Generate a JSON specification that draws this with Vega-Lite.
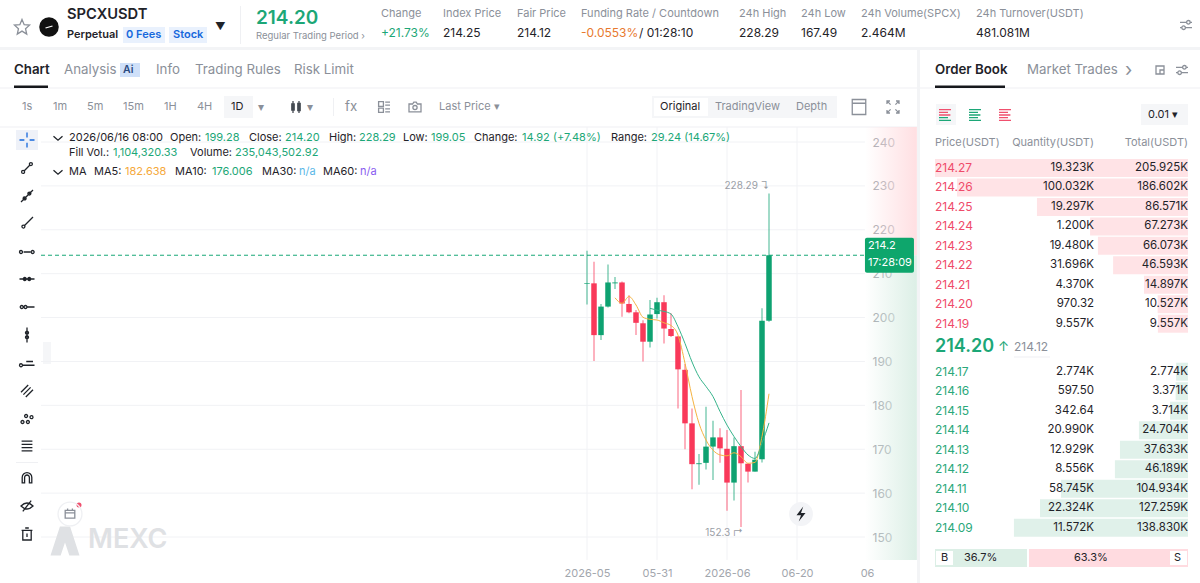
{
"$schema":"https://vega.github.io/schema/vega-lite/v6.json",
"width":1200,"height":583,"padding":0,"autosize":"none","background":"#ffffff",
"config":{"view":{"stroke":null},"font":"Inter","text":{"font":"Inter"}},
"datasets":{
"candles":[
{"date":"2026-05-21","open":207.65,"close":207.8,"high":215.25,"low":203.0,"ma5":null,"ma10":null},
{"date":"2026-05-22","open":207.8,"close":196.0,"high":212.74,"low":190.1,"ma5":null,"ma10":null},
{"date":"2026-05-23","open":196.0,"close":202.5,"high":203.1,"low":194.9,"ma5":null,"ma10":null},
{"date":"2026-05-24","open":202.5,"close":208.0,"high":212.1,"low":202.3,"ma5":null,"ma10":null},
{"date":"2026-05-25","open":207.8,"close":208.0,"high":209.25,"low":206.5,"ma5":204.5,"ma10":null},
{"date":"2026-05-26","open":208.0,"close":203.2,"high":208.2,"low":200.2,"ma5":203.25,"ma10":null},
{"date":"2026-05-27","open":203.1,"close":201.2,"high":205.1,"low":201.0,"ma5":204.8,"ma10":null},
{"date":"2026-05-28","open":201.2,"close":198.8,"high":201.7,"low":196.0,"ma5":202.87,"ma10":null},
{"date":"2026-05-29","open":198.7,"close":194.5,"high":199.4,"low":190.0,"ma5":200.06,"ma10":null},
{"date":"2026-05-30","open":194.5,"close":200.7,"high":204.0,"low":193.2,"ma5":199.6,"ma10":202.1},
{"date":"2026-05-31","open":200.8,"close":203.5,"high":204.5,"low":199.8,"ma5":199.45,"ma10":201.7},
{"date":"2026-06-01","open":203.5,"close":197.5,"high":205.1,"low":194.1,"ma5":198.8,"ma10":201.4},
{"date":"2026-06-02","open":197.4,"close":195.8,"high":201.0,"low":195.6,"ma5":198.2,"ma10":200.8},
{"date":"2026-06-03","open":195.7,"close":188.2,"high":195.8,"low":179.3,"ma5":196.0,"ma10":197.9},
{"date":"2026-06-04","open":188.1,"close":175.9,"high":189.4,"low":170.0,"ma5":189.6,"ma10":194.1},
{"date":"2026-06-05","open":175.9,"close":166.6,"high":179.3,"low":160.9,"ma5":182.0,"ma10":189.9},
{"date":"2026-06-06","open":166.6,"close":166.8,"high":168.9,"low":161.9,"ma5":175.9,"ma10":186.5},
{"date":"2026-06-07","open":166.9,"close":170.6,"high":179.7,"low":165.4,"ma5":172.1,"ma10":184.3},
{"date":"2026-06-08","open":170.6,"close":172.7,"high":176.5,"low":163.0,"ma5":169.8,"ma10":182.0},
{"date":"2026-06-09","open":172.7,"close":170.2,"high":174.8,"low":166.9,"ma5":168.7,"ma10":178.6},
{"date":"2026-06-10","open":170.1,"close":162.4,"high":174.4,"low":156.0,"ma5":168.5,"ma10":175.5},
{"date":"2026-06-11","open":162.4,"close":170.7,"high":172.7,"low":158.3,"ma5":169.2,"ma10":172.9},
{"date":"2026-06-12","open":170.7,"close":166.8,"high":183.5,"low":152.3,"ma5":168.3,"ma10":170.6},
{"date":"2026-06-13","open":166.7,"close":164.9,"high":166.8,"low":162.4,"ma5":166.8,"ma10":168.7},
{"date":"2026-06-14","open":164.9,"close":167.6,"high":169.4,"low":164.9,"ma5":167.0,"ma10":167.9},
{"date":"2026-06-15","open":167.7,"close":199.3,"high":202.1,"low":167.0,"ma5":172.9,"ma10":171.4},
{"date":"2026-06-16","open":199.28,"close":214.2,"high":228.29,"low":199.05,"ma5":182.638,"ma10":176.006}
],
"book":[
{"level":-9,"side":"ask","price":"214.27","qty":"19.323K","total":"205.925K","depth":100},
{"level":-8,"side":"ask","price":"214.26","qty":"100.032K","total":"186.602K","depth":91.3},
{"level":-7,"side":"ask","price":"214.25","qty":"19.297K","total":"86.571K","depth":59.7},
{"level":-6,"side":"ask","price":"214.24","qty":"1.200K","total":"67.273K","depth":38.7},
{"level":-5,"side":"ask","price":"214.23","qty":"19.480K","total":"66.073K","depth":35.6},
{"level":-4,"side":"ask","price":"214.22","qty":"31.696K","total":"46.593K","depth":29.6},
{"level":-3,"side":"ask","price":"214.21","qty":"4.370K","total":"14.897K","depth":17.4},
{"level":-2,"side":"ask","price":"214.20","qty":"970.32","total":"10.527K","depth":12},
{"level":-1,"side":"ask","price":"214.19","qty":"9.557K","total":"9.557K","depth":11.9},
{"level":1,"side":"bid","price":"214.17","qty":"2.774K","total":"2.774K","depth":4.7},
{"level":2,"side":"bid","price":"214.16","qty":"597.50","total":"3.371K","depth":4.9},
{"level":3,"side":"bid","price":"214.15","qty":"342.64","total":"3.714K","depth":7.1},
{"level":4,"side":"bid","price":"214.14","qty":"20.990K","total":"24.704K","depth":19.4},
{"level":5,"side":"bid","price":"214.13","qty":"12.929K","total":"37.633K","depth":26.9},
{"level":6,"side":"bid","price":"214.12","qty":"8.556K","total":"46.189K","depth":28.9},
{"level":7,"side":"bid","price":"214.11","qty":"58.745K","total":"104.934K","depth":50.2},
{"level":8,"side":"bid","price":"214.10","qty":"22.324K","total":"127.259K","depth":58.5},
{"level":9,"side":"bid","price":"214.09","qty":"11.572K","total":"138.830K","depth":68.8}
],
"boxes":[
{"a":0,"b":1,"c":0,"d":1,"tone":"band"},{"a":2,"b":3,"c":1,"d":2,"tone":"band"},
{"a":0,"b":2,"c":3,"d":4,"tone":"line"},{"a":3,"b":1,"c":3,"d":4,"tone":"line"},{"a":0,"b":2,"c":5,"d":6,"tone":"line"},
{"a":4,"b":5,"c":7,"d":8,"tone":"seg"},{"a":6,"b":7,"c":7,"d":8,"tone":"seg"},{"a":8,"b":9,"c":9,"d":10,"tone":"white"},
{"a":10,"b":11,"c":11,"d":12,"tone":"ink"},{"a":12,"b":13,"c":11,"d":12,"tone":"ink"},
{"a":14,"b":15,"c":13,"d":14,"tone":"badge"},{"a":16,"b":17,"c":13,"d":14,"tone":"badge"},{"a":18,"b":19,"c":15,"d":16,"tone":"ai"},
{"a":20,"b":21,"c":17,"d":18,"tone":"seg"},{"a":22,"b":23,"c":17,"d":18,"tone":"seg"},
{"a":12,"b":25,"c":19,"d":20,"tone":"softgreen"},{"a":24,"b":21,"c":19,"d":20,"tone":"softred"},
{"a":22,"b":26,"c":21,"d":22,"tone":"white"},{"a":27,"b":28,"c":21,"d":22,"tone":"white"},
{"a":29,"b":30,"c":23,"d":24,"tone":"sel"},{"a":31,"b":32,"c":25,"d":26,"tone":"line"},{"a":33,"b":34,"c":9,"d":10,"tone":"line"},
{"a":35,"b":36,"c":27,"d":28,"tone":"seg"},{"a":37,"b":38,"c":29,"d":30,"tone":"line"},{"a":29,"b":30,"c":31,"d":32,"tone":"line"}
],
"labels":[
{"t":"SPCXUSDT","c":0,"r":1,"tone":"ink","kind":"t15","w":"b"},
{"t":"Perpetual","c":0,"r":4,"tone":"ink","kind":"t11","w":"b"},
{"t":"0 Fees","c":1,"r":4,"tone":"blue","kind":"t11","w":"b"},
{"t":"Stock","c":2,"r":4,"tone":"blue","kind":"t11","w":"b"},
{"t":"▼","c":62,"r":16,"tone":"ink","kind":"t10"},
{"t":"214.20","c":3,"r":2,"tone":"green","kind":"t20","w":"b"},
{"t":"Regular Trading Period ›","c":3,"r":5,"tone":"grey","kind":"t9"},
{"t":"Change","c":4,"r":0,"tone":"grey","kind":"t11"},{"t":"+21.73%","c":4,"r":3,"tone":"green","kind":"t12"},
{"t":"Index Price","c":5,"r":0,"tone":"grey","kind":"t11"},{"t":"214.25","c":5,"r":3,"tone":"ink","kind":"t12"},
{"t":"Fair Price","c":6,"r":0,"tone":"grey","kind":"t11"},{"t":"214.12","c":6,"r":3,"tone":"ink","kind":"t12"},
{"t":"Funding Rate / Countdown","c":7,"r":0,"tone":"grey","kind":"t11"},{"t":"-0.0553%","c":7,"r":3,"tone":"orange","kind":"t12"},{"t":"/ 01:28:10","c":86,"r":3,"tone":"ink","kind":"t12"},
{"t":"24h High","c":8,"r":0,"tone":"grey","kind":"t11"},{"t":"228.29","c":8,"r":3,"tone":"ink","kind":"t12"},
{"t":"24h Low","c":9,"r":0,"tone":"grey","kind":"t11"},{"t":"167.49","c":9,"r":3,"tone":"ink","kind":"t12"},
{"t":"24h Volume(SPCX)","c":10,"r":0,"tone":"grey","kind":"t11"},{"t":"2.464M","c":10,"r":3,"tone":"ink","kind":"t12"},
{"t":"24h Turnover(USDT)","c":11,"r":0,"tone":"grey","kind":"t11"},{"t":"481.081M","c":11,"r":3,"tone":"ink","kind":"t12"},
{"t":"Chart","c":12,"r":6,"tone":"ink","kind":"t14","w":"b"},
{"t":"Analysis","c":13,"r":6,"tone":"grey","kind":"t14"},{"t":"Ai","c":22,"r":6,"tone":"navy","kind":"t10","w":"b"},
{"t":"Info","c":14,"r":6,"tone":"grey","kind":"t14"},{"t":"Trading Rules","c":15,"r":6,"tone":"grey","kind":"t14"},{"t":"Risk Limit","c":16,"r":6,"tone":"grey","kind":"t14"},
{"t":"Order Book","c":17,"r":6,"tone":"ink","kind":"t14","w":"b"},{"t":"Market Trades","c":18,"r":6,"tone":"grey","kind":"t14"},{"t":"›","c":67,"r":6,"tone":"grey","kind":"t20"},
{"t":"1s","c":19,"r":7,"tone":"grey","kind":"t11"},{"t":"1m","c":20,"r":7,"tone":"grey","kind":"t11"},{"t":"5m","c":21,"r":7,"tone":"grey","kind":"t11"},{"t":"15m","c":22,"r":7,"tone":"grey","kind":"t11"},{"t":"1H","c":23,"r":7,"tone":"grey","kind":"t11"},{"t":"4H","c":24,"r":7,"tone":"grey","kind":"t11"},
{"t":"1D","c":25,"r":7,"tone":"ink","kind":"t11"},{"t":"▾","c":63,"r":7,"tone":"grey","kind":"t12"},{"t":"▾","c":64,"r":7,"tone":"grey","kind":"t12"},
{"t":"fx","c":66,"r":7,"tone":"grey","kind":"t14"},{"t":"Last Price ▾","c":26,"r":7,"tone":"grey","kind":"t11"},
{"t":"Original","c":27,"r":7,"tone":"ink","kind":"t11"},{"t":"TradingView","c":28,"r":7,"tone":"grey","kind":"t11"},{"t":"Depth","c":29,"r":7,"tone":"grey","kind":"t11"},
{"t":"2026/06/16 08:00","c":30,"r":8,"tone":"ink","kind":"t11"},
{"t":"Open:","c":31,"r":8,"tone":"ink","kind":"t11"},{"t":"199.28","c":32,"r":8,"tone":"green","kind":"t11"},
{"t":"Close:","c":33,"r":8,"tone":"ink","kind":"t11"},{"t":"214.20","c":34,"r":8,"tone":"green","kind":"t11"},
{"t":"High:","c":35,"r":8,"tone":"ink","kind":"t11"},{"t":"228.29","c":36,"r":8,"tone":"green","kind":"t11"},
{"t":"Low:","c":37,"r":8,"tone":"ink","kind":"t11"},{"t":"199.05","c":38,"r":8,"tone":"green","kind":"t11"},
{"t":"Change:","c":39,"r":8,"tone":"ink","kind":"t11"},{"t":"14.92 (+7.48%)","c":40,"r":8,"tone":"green","kind":"t11"},
{"t":"Range:","c":41,"r":8,"tone":"ink","kind":"t11"},{"t":"29.24 (14.67%)","c":42,"r":8,"tone":"green","kind":"t11"},
{"t":"Fill Vol.:","c":30,"r":9,"tone":"ink","kind":"t11"},{"t":"1,104,320.33","c":43,"r":9,"tone":"green","kind":"t11"},
{"t":"Volume:","c":44,"r":9,"tone":"ink","kind":"t11"},{"t":"235,043,502.92","c":45,"r":9,"tone":"green","kind":"t11"},
{"t":"MA","c":30,"r":10,"tone":"ink","kind":"t11"},
{"t":"MA5:","c":46,"r":10,"tone":"ink","kind":"t11"},{"t":"182.638","c":47,"r":10,"tone":"amber","kind":"t11"},
{"t":"MA10:","c":48,"r":10,"tone":"ink","kind":"t11"},{"t":"176.006","c":49,"r":10,"tone":"green","kind":"t11"},
{"t":"MA30:","c":50,"r":10,"tone":"ink","kind":"t11"},{"t":"n/a","c":51,"r":10,"tone":"sky","kind":"t11"},
{"t":"MA60:","c":52,"r":10,"tone":"ink","kind":"t11"},{"t":"n/a","c":53,"r":10,"tone":"purple","kind":"t11"},
{"t":"Price(USDT)","c":17,"r":11,"tone":"grey","kind":"t11"},
{"t":"Quantity(USDT)","c":87,"r":11,"tone":"grey","kind":"t11","w":"r"},{"t":"Total(USDT)","c":88,"r":11,"tone":"grey","kind":"t11","w":"r"},
{"t":"0.01 ▾","c":54,"r":12,"tone":"ink","kind":"t11"},
{"t":"214.20","c":17,"r":13,"tone":"green","kind":"t18","w":"b"},{"t":"↑","c":56,"r":13,"tone":"green","kind":"t14"},{"t":"214.12","c":55,"r":13,"tone":"grey","kind":"t12"},
{"t":"B","c":57,"r":14,"tone":"ink","kind":"t11"},{"t":"36.7%","c":58,"r":14,"tone":"ink","kind":"t11"},{"t":"63.3%","c":59,"r":14,"tone":"ink","kind":"t11"},{"t":"S","c":60,"r":14,"tone":"ink","kind":"t11"},
{"t":"MEXC","c":61,"r":15,"tone":"wm","kind":"t27","w":"b"}
],
"discs":[
{"icon":"wmlogo","c":85,"r":35,"tone":"wm","kind":"wm"},
{"icon":"circle","c":80,"r":16,"tone":"black","kind":"c11"},
{"icon":"circle","c":82,"r":33,"tone":"btn","kind":"c13"},
{"icon":"bolt","c":82,"r":33,"tone":"ink","kind":"i15"},
{"icon":"circle","c":83,"r":33,"tone":"white","kind":"c13"},
{"icon":"circle","c":84,"r":34,"tone":"red","kind":"c3"}
],
"icons":[
{"icon":"crosshair","c":68,"r":18,"tone":"blue","kind":"i15"},
{"icon":"seg","c":68,"r":19,"tone":"ink","kind":"i12"},
{"icon":"ray2","c":68,"r":20,"tone":"ink","kind":"i12"},
{"icon":"ray1","c":68,"r":21,"tone":"ink","kind":"i12"},
{"icon":"hseg","c":68,"r":22,"tone":"ink","kind":"i15"},
{"icon":"hline2","c":68,"r":23,"tone":"ink","kind":"i15"},
{"icon":"hray","c":68,"r":24,"tone":"ink","kind":"i15"},
{"icon":"vline","c":68,"r":25,"tone":"ink","kind":"i15"},
{"icon":"hlabel","c":68,"r":26,"tone":"ink","kind":"i15"},
{"icon":"channel","c":68,"r":27,"tone":"ink","kind":"i12"},
{"icon":"pattern","c":68,"r":28,"tone":"ink","kind":"i12"},
{"icon":"fib","c":68,"r":29,"tone":"ink","kind":"i12"},
{"icon":"magnet","c":68,"r":30,"tone":"ink","kind":"i12"},
{"icon":"eyeoff","c":68,"r":31,"tone":"ink","kind":"i12"},
{"icon":"trash","c":68,"r":32,"tone":"ink","kind":"i12"},
{"icon":"chev","c":65,"r":8,"tone":"ink","kind":"i10"},
{"icon":"chev","c":65,"r":10,"tone":"ink","kind":"i10"},
{"icon":"star","c":81,"r":16,"tone":"icon","kind":"i15"},
{"icon":"logoline","c":80,"r":16,"tone":"white","kind":"i10"},
{"icon":"candle","c":69,"r":7,"tone":"iconink","kind":"i12"},
{"icon":"grid","c":70,"r":7,"tone":"icon","kind":"i12"},
{"icon":"camera","c":71,"r":7,"tone":"icon","kind":"i12"},
{"icon":"window","c":72,"r":7,"tone":"icon","kind":"i15"},
{"icon":"expand","c":73,"r":7,"tone":"icon","kind":"i12"},
{"icon":"settings","c":74,"r":17,"tone":"icon","kind":"i12"},
{"icon":"box","c":75,"r":6,"tone":"icon","kind":"i10"},
{"icon":"settings","c":76,"r":6,"tone":"icon","kind":"i12"},
{"icon":"obtop","c":77,"r":12,"tone":"red","kind":"i12"},
{"icon":"obbottom","c":77,"r":12,"tone":"green","kind":"i12"},
{"icon":"oball","c":78,"r":12,"tone":"green","kind":"i12"},
{"icon":"oball","c":79,"r":12,"tone":"red","kind":"i12"},
{"icon":"circle","c":83,"r":33,"tone":"line","kind":"c13"},
{"icon":"calendar","c":83,"r":33,"tone":"icon","kind":"i12"}
]
},
"resolve":{"scale":{"x":"independent","y":"independent","color":"independent","size":"independent","shape":"independent"}},
"layer":[
{
"data":{"name":"boxes"},
"mark":{"type":"rect"},
"encoding":{
"x":{"field":"a","type":"quantitative","axis":null,"scale":{"nice":false,"zero":false,"domain":[0,1,2,3,4,5,6,7,8,9,10,11,12,13,14,15,16,17,18,19,20,21,22,23,24,25,26,27,28,29,30,31,32,33,34,35,36,37,38],"range":[0,1200,917,920,224,253,652,837,654,708,14,48,935,1005,123,165,169,207,120,140,1141,1188,936,956,1029,1027,953,1170,1187,16,38,240,241,333,334,43,51,1014,1050]}},
"x2":{"field":"b"},
"y":{"field":"c","type":"quantitative","axis":null,"scale":{"nice":false,"zero":false,"domain":[0,1,2,3,4,5,6,7,8,9,10,11,12,13,14,15,16,17,18,19,20,21,22,23,24,25,26,27,28,29,30,31,32],"range":[47,50,583,87.5,88.5,126.5,127.5,96,118,98,116,85.5,88,27,43,63,77,104,125,549,567,551,565,130,150,6,44,342,364,356.5,357.5,462,463]}},
"y2":{"field":"d"},
"color":{"field":"tone","type":"nominal","legend":null,"scale":{"domain":["band","line","seg","white","ink","badge","ai","softgreen","softred","sel"],"range":["#f3f4f6","#eff0f3","#f5f6f8","#ffffff","#16181c","#e9f1fd","#cfe0f9","#dcefe6","#ffdbe0","#eef1f8"]}}
}
},
{
"layer":[
{"data":{"values":[{}]},
"mark":{"type":"rect","fill":{"gradient":"linear","x1":0,"x2":1,"y1":0,"y2":0,"stops":[{"offset":0,"color":"rgba(255,223,226,0)"},{"offset":1,"color":"rgba(255,223,226,1)"}]}},
"encoding":{"x":{"datum":{"year":2026,"month":6,"date":29,"hours":17,"utc":true},"type":"temporal","scale":{"type":"utc","nice":false,"padding":0,"domain":[{"year":2026,"month":3,"date":4,"utc":true},{"year":2026,"month":7,"date":8,"utc":true}],"range":[41,923]}},
"x2":{"datum":{"year":2026,"month":7,"date":7,"hours":3,"utc":true}},
"y":{"datum":243.42,"type":"quantitative","scale":{"domain":[144.08,243.42],"range":[563,127],"nice":false,"zero":false}},"y2":{"datum":214.2}}},
{"data":{"values":[{}]},
"mark":{"type":"rect","fill":{"gradient":"linear","x1":0,"x2":1,"y1":0,"y2":0,"stops":[{"offset":0,"color":"rgba(220,239,230,0)"},{"offset":1,"color":"rgba(220,239,230,1)"}]}},
"encoding":{"x":{"datum":{"year":2026,"month":6,"date":29,"hours":17,"utc":true},"type":"temporal"},"x2":{"datum":{"year":2026,"month":7,"date":7,"hours":3,"utc":true}},
"y":{"datum":214.2,"type":"quantitative"},"y2":{"datum":144.78}}},
{"data":{"values":[{"price":150},{"price":160},{"price":170},{"price":180},{"price":190},{"price":200},{"price":210},{"price":220},{"price":230},{"price":240}]},
"mark":{"type":"rule","color":"#f1f2f5","strokeWidth":1},
"encoding":{"x":{"datum":{"year":2026,"month":3,"date":4,"utc":true},"type":"temporal"},"x2":{"datum":{"year":2026,"month":6,"date":29,"hours":17,"utc":true}},
"y":{"field":"price","type":"quantitative","axis":{"title":null,"orient":"right","offset":-328,"zindex":0,"values":[150,160,170,180,190,200,210,220,230,240],"grid":false,"domain":false,"ticks":false,"labelPadding":0,"labelColor":"#a2a6ad","labelFontSize":12,"labelFont":"Inter"}}}},
{"data":{"values":[{"date":"2026-05-21"},{"date":"2026-05-31"},{"date":"2026-06-10"},{"date":"2026-06-20"}]},
"mark":{"type":"rule","color":"#f1f2f5","strokeWidth":1},
"encoding":{"x":{"field":"date","type":"temporal","axis":{"title":null,"orient":"bottom","offset":-16,"zindex":1,"grid":false,"domain":false,"ticks":false,"labelPadding":0,"labelBaseline":"top","labelColor":"#a2a6ad","labelFontSize":11,"labelFont":"Inter","labelOverlap":false,"values":[{"year":2026,"month":5,"date":21,"utc":true},{"year":2026,"month":5,"date":31,"utc":true},{"year":2026,"month":6,"date":10,"utc":true},{"year":2026,"month":6,"date":20,"utc":true},{"year":2026,"month":6,"date":30,"utc":true}],"labelExpr":"utcFormat(datum.value,'%m-%d')=='05-21'?'2026-05':utcFormat(datum.value,'%m-%d')=='06-10'?'2026-06':utcFormat(datum.value,'%m-%d')=='06-30'?'06':utcFormat(datum.value,'%m-%d')"}},
"y":{"datum":144.78,"type":"quantitative"},"y2":{"datum":243.42}}},
{"data":{"values":[{}]},
"mark":{"type":"rule","color":"#17a777","strokeWidth":1,"strokeDash":[4,3]},
"encoding":{"x":{"datum":{"year":2026,"month":3,"date":4,"utc":true},"type":"temporal"},"x2":{"datum":{"year":2026,"month":6,"date":29,"hours":17,"utc":true}},"y":{"datum":214.2,"type":"quantitative"}}},
{"data":{"name":"candles"},
"mark":{"type":"rule","strokeWidth":1.2,"opacity":0.65},
"encoding":{"x":{"field":"date","type":"temporal"},"y":{"field":"low","type":"quantitative"},"y2":{"field":"high"},
"color":{"condition":{"test":"datum.close>=datum.open","value":"#0ea271"},"value":"#f9395a"}}},
{"data":{"name":"candles"},
"mark":{"type":"bar","width":5.5,"orient":"vertical"},
"encoding":{"x":{"field":"date","type":"temporal"},"y":{"field":"open","type":"quantitative"},"y2":{"field":"close"},
"color":{"condition":{"test":"datum.close>=datum.open","value":"#0ea271"},"value":"#f9395a"}}},
{"data":{"name":"candles"},
"mark":{"type":"line","color":"#f5b342","strokeWidth":1,"interpolate":"monotone"},
"encoding":{"x":{"field":"date","type":"temporal"},"y":{"field":"ma5","type":"quantitative"}}},
{"data":{"name":"candles"},
"mark":{"type":"line","color":"#36b48b","strokeWidth":1,"interpolate":"monotone"},
"encoding":{"x":{"field":"date","type":"temporal"},"y":{"field":"ma10","type":"quantitative"}}},
{"data":{"values":[{"date":"2026-06-16","price":228.29,"label":"228.29 ↴"}]},
"mark":{"type":"text","align":"right","baseline":"middle","dx":0,"dy":-7,"fontSize":10,"color":"#9a9ea6"},
"encoding":{"x":{"field":"date","type":"temporal"},"y":{"field":"price","type":"quantitative"},"text":{"field":"label"}}},
{"data":{"values":[{"date":"2026-06-12","price":152.3,"label":"152.3 ↱"}]},
"mark":{"type":"text","align":"right","baseline":"middle","dx":2,"dy":6,"fontSize":10,"color":"#9a9ea6"},
"encoding":{"x":{"field":"date","type":"temporal"},"y":{"field":"price","type":"quantitative"},"text":{"field":"label"}}},
{"data":{"values":[{}]},
"mark":{"type":"rect","color":"#0ea66c","cornerRadius":2},
"encoding":{"x":{"datum":{"year":2026,"month":6,"date":29,"hours":17,"utc":true},"type":"temporal"},"x2":{"datum":{"year":2026,"month":7,"date":6,"hours":17,"utc":true}},"y":{"datum":218.2,"type":"quantitative"},"y2":{"datum":210.2}}},
{"data":{"values":[{"tag":"214.2","at":216.3},{"tag":"17:28:09","at":212.4}]},
"mark":{"type":"text","align":"left","baseline":"middle","dx":1,"fontSize":11,"color":"#ffffff"},
"encoding":{"x":{"datum":{"year":2026,"month":6,"date":30,"utc":true},"type":"temporal"},"y":{"field":"at","type":"quantitative"},"text":{"field":"tag"}}}
]
},
{
"data":{"name":"book"},
"encoding":{
"y":{"field":"level","type":"quantitative","axis":null,"scale":{"domain":[-9,-1,1,9],"range":[168,323.7,371.7,527.7],"nice":false,"zero":false,"padding":0}}
},
"layer":[
{"mark":{"type":"bar","height":18,"orient":"horizontal"},
"encoding":{"x":{"field":"depth","type":"quantitative","axis":null,"scale":{"domain":[0,100],"range":[1188,935],"nice":false}},
"color":{"field":"side","type":"nominal","legend":null,"scale":{"domain":["ask","bid"],"range":["#ffe3e6","#e0f1ea"]}}}},
{"mark":{"type":"text","align":"left","baseline":"middle","fontSize":12},
"encoding":{"x":{"datum":100,"type":"quantitative","axis":null},"text":{"field":"price"},
"color":{"condition":{"test":"datum.side=='ask'","value":"#ef4b6a"},"value":"#2aa87a"}}},
{"mark":{"type":"text","align":"right","baseline":"middle","fontSize":11.5,"color":"#1f2329"},
"encoding":{"x":{"datum":37.15,"type":"quantitative","axis":null},"text":{"field":"qty"}}},
{"mark":{"type":"text","align":"right","baseline":"middle","fontSize":11.5,"color":"#1f2329"},
"encoding":{"x":{"datum":0,"type":"quantitative","axis":null},"text":{"field":"total"}}}
]
},
{
"resolve":{"scale":{"shape":"independent"}},
"encoding":{
"x":{"field":"c","type":"quantitative","axis":null,"scale":{"nice":false,"zero":false,"domain":[0,1,2,3,4,5,6,7,8,9,10,11,12,13,14,15,16,17,18,19,20,21,22,23,24,25,26,27,28,29,30,31,32,33,34,35,36,37,38,39,40,41,42,43,44,45,46,47,48,49,50,51,52,53,54,55,56,57,58,59,60,61,62,63,64,65,66,67,68,69,70,71,72,73,74,75,76,77,78,79,80,81,82,83,84,85,86,87,88],"range":[67,126,173,256,381,443,517,581,739,801,861,976,14,64,156,195,294,935,1027,22,53,87,123,164,197,231,439,660,715,796,69,170,205,249,285,329,359,403,431,474,522,611,651,113,190,235,94,125,175,212,262,299,323,360,1148,1014,998,941,964,1074,1174,88,215,258,307,58,345,1125,27,296,384,415,859,893,1186,1160,1182,945,975,1005,49,22,801,70,79,65,639,1094,1188]}},
"y":{"field":"r","type":"quantitative","axis":null,"scale":{"nice":false,"zero":false,"domain":[0,1,2,3,4,5,6,7,8,9,10,11,12,13,14,15,16,17,18,19,20,21,22,23,24,25,26,27,28,29,30,31,32,33,34,35],"range":[14,15,18,33,35,36,70,107,138,153,172,143,115,347,558,540,27,25,140,168,196,223,252,279,307,335,363,391,419,446,478,506,534,514,505,541]}},
"color":{"field":"tone","type":"nominal","legend":null,"scale":{"domain":["ink","grey","green","blue","orange","amber","sky","purple","red","wm","navy","white","black","btn","icon","iconink","line"],"range":["#1f2329","#8b9099","#1ca777","#1668dc","#e8792e","#f5a93b","#5bb8e8","#8a5cf0","#f0506e","#dfe1e4","#2a4a7f","#ffffff","#111111","#f3f4f7","#8b9099","#444a52","#eff0f3"]}},
"size":{"field":"kind","type":"nominal","legend":null,"scale":{"type":"ordinal","domain":["t9","t10","t11","t12","t14","t15","t18","t20","t27","i10","i12","i15","c3","c11","c13","wm"],"range":[9.5,10.5,11,12,13.3,14.7,18,19,27,100,144,225,25,380,572,841]}}
},
"layer":[
{"data":{"name":"labels"},"transform":[{"filter":"!datum.w"}],"mark":{"type":"text","align":"left","baseline":"middle"},"encoding":{"text":{"field":"t"}}},
{"data":{"name":"labels"},"transform":[{"filter":"datum.w=='b'"}],"mark":{"type":"text","align":"left","baseline":"middle","fontWeight":600},"encoding":{"text":{"field":"t"}}},
{"data":{"name":"labels"},"transform":[{"filter":"datum.w=='r'"}],"mark":{"type":"text","align":"right","baseline":"middle"},"encoding":{"text":{"field":"t"}}},
{"data":{"name":"discs"},"mark":{"type":"point","filled":true,"opacity":1},"encoding":{"shape":{"field":"icon","type":"nominal","legend":null,"scale":{"domain":["circle","wmlogo","bolt"],"range":["circle","M-1,1L-.35,-1H.35L1,1H.3L0,.1L-.3,1Z","M.3,-1L-.6,.15H0L-.3,1L.6,-.15H0Z"]}}}},
{"data":{"name":"icons"},"mark":{"type":"point","filled":false,"opacity":1,"strokeWidth":1.3},"encoding":{"shape":{"field":"icon","type":"nominal","legend":null,"scale":{"domain":["crosshair","seg","ray2","ray1","hseg","hline2","hray","vline","hlabel","channel","pattern","fib","magnet","eyeoff","trash","chev","star","logoline","candle","grid","camera","window","expand","settings","box","obtop","obbottom","oball","circle","calendar"],"range":[
"M-1,0H-.35M.35,0H1M0,-1V-.35M0,.35V1",
"M-.45,.45L.45,-.45M-.9,.65a.25,.25 0 1 0 .5,0a.25,.25 0 1 0 -.5,0M.4,-.65a.25,.25 0 1 0 .5,0a.25,.25 0 1 0 -.5,0",
"M-1,1L1,-1M-.65,.4a.25,.25 0 1 0 .5,0a.25,.25 0 1 0 -.5,0M.15,-.4a.25,.25 0 1 0 .5,0a.25,.25 0 1 0 -.5,0",
"M-.45,.45L1,-1M-.85,.6a.25,.25 0 1 0 .5,0a.25,.25 0 1 0 -.5,0",
"M-.45,0H.45M-1,0a.2,.2 0 1 0 .4,0a.2,.2 0 1 0 -.4,0M.55,0a.2,.2 0 1 0 .4,0a.2,.2 0 1 0 -.4,0",
"M-1,0H1M-.5,0a.2,.2 0 1 0 .4,0a.2,.2 0 1 0 -.4,0M.1,0a.2,.2 0 1 0 .4,0a.2,.2 0 1 0 -.4,0",
"M-.1,0H1M-.9,0a.2,.2 0 1 0 .4,0a.2,.2 0 1 0 -.4,0M-.4,0a.2,.2 0 1 0 .4,0a.2,.2 0 1 0 -.4,0",
"M0,-1V1M-.2,-.3a.2,.2 0 1 0 .4,0a.2,.2 0 1 0 -.4,0M-.2,.3a.2,.2 0 1 0 .4,0a.2,.2 0 1 0 -.4,0",
"M-.6,.3H1M-1,.3a.2,.2 0 1 0 .4,0a.2,.2 0 1 0 -.4,0M-.1,-.2H.8",
"M-1,.2L.2,-1M-.6,.6L.6,-.6M-.2,1L1,-.2",
"M-1,.5a.25,.25 0 1 0 .5,0a.25,.25 0 1 0 -.5,0M-.4,-.5a.25,.25 0 1 0 .5,0a.25,.25 0 1 0 -.5,0M-.1,.5a.25,.25 0 1 0 .5,0a.25,.25 0 1 0 -.5,0M.5,-.3a.25,.25 0 1 0 .5,0a.25,.25 0 1 0 -.5,0",
"M-.9,-.8H.9M-.9,-.27H.9M-.9,.27H.9M-.9,.8H.9",
"M-.8,.8V-.1A.8,.8 0 0 1 .8,-.1V.8H.4V-.1A.4,.4 0 0 0 -.4,-.1V.8Z",
"M-1,0Q0,-1 1,0Q0,1 -1,0ZM-.7,.9L.7,-.9",
"M-.7,-.6H.7V1H-.7ZM-.9,-.6H.9M-.3,-1H.3M0,-.1V.5",
"M-.9,-.35L0,.45L.9,-.35",
"M0,-1L.29,-.31L1,-.25L.47,.22L.63,.95L0,.55L-.63,.95L-.47,.22L-1,-.25L-.29,-.31Z",
"M-.7,.2L.7,-.2",
"M-.5,-1V1M.5,-1V1M-.7,-.5H-.3V.5H-.7ZM.3,-.6H.7V.6H.3Z",
"M-.9,-.9H-.1V-.1H-.9ZM-.9,.2H-.1V.9H-.9ZM.2,-.8H1M.2,-.3H1M.2,.3H1M.2,.8H1",
"M-1,-.5H-.4L-.2,-.8H.2L.4,-.5H1V.8H-1ZM-.35,.1A.35,.35 0 1 0 .35,.1A.35,.35 0 1 0 -.35,.1",
"M-.9,-1H.9V1H-.9ZM-.9,-.5H.9",
"M-1,-.5V-1H-.5M.5,-1H1V-.5M1,.5V1H.5M-.5,1H-1V.5M-.9,-.9L-.4,-.4M.9,-.9L.4,-.4M.9,.9L.4,.4M-.9,.9L-.4,.4",
"M-1,-.45H.1M.7,-.45H1M-1,.45H-.7M-.1,.45H1M.1,-.45a.3,.3 0 1 0 .6,0a.3,.3 0 1 0 -.6,0M-.7,.45a.3,.3 0 1 0 .6,0a.3,.3 0 1 0 -.6,0",
"M-.8,-.8H.8V.8H-.8ZM0,0H.8V.8H0Z",
"M-1,-.9H1M-1,-.45H.5M-1,0H.9",
"M-1,.45H.5M-1,.9H1",
"M-1,-.9H1M-1,-.45H.5M-1,0H.9M-1,.45H.5M-1,.9H1",
"circle",
"M-.8,-.6H.8V.7H-.8ZM-.8,-.2H.8M-.4,-.9V-.5M.4,-.9V-.5"
]}}}}
]
}
]
}
